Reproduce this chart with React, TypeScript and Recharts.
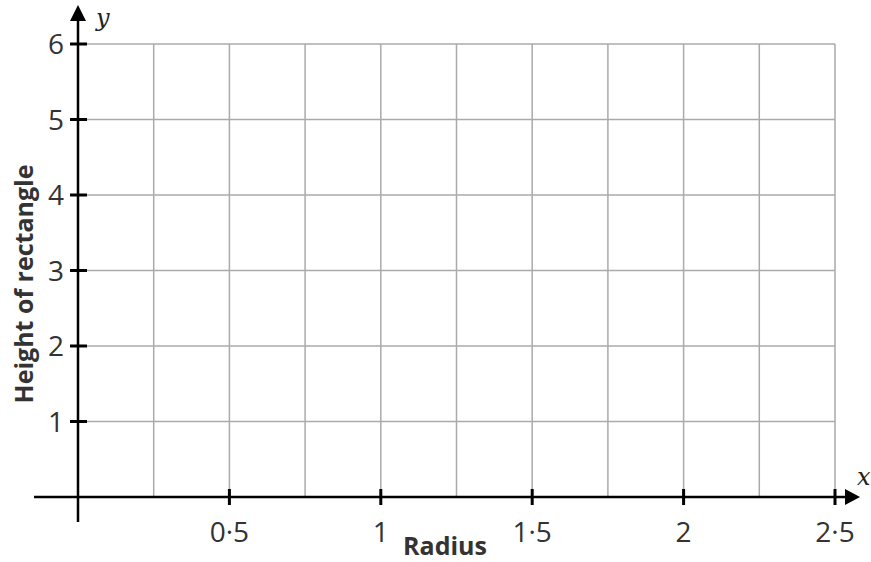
import { ComposedChart, XAxis, YAxis, ReferenceLine, Label } from "recharts";

const xTicks = [0.5, 1, 1.5, 2, 2.5];
const yTicks = [1, 2, 3, 4, 5, 6];
const gridX = [0.25, 0.5, 0.75, 1, 1.25, 1.5, 1.75, 2, 2.25, 2.5];
const gridY = [1, 2, 3, 4, 5, 6];
const xDomain = [0, 2.5];
const yDomain = [0, 6];

const tickFont = { fontFamily: "'Open Sans', sans-serif", fontSize: 28, fill: "#333" };
const boldFont = { fontFamily: "'Open Sans', sans-serif", fontSize: 25, fontWeight: 700, fill: "#333" };
const varFont = { fontFamily: "'DejaVu Serif', serif", fontStyle: "italic", fontSize: 24, fill: "#222" };

const fmt = (v: number) => String(v).replace(".", "·");

function XTick(props: any) {
  const { x, y, payload } = props;
  return (
    <g>
      <line x1={x} x2={x} y1={y - 8} y2={y + 8} stroke="#000" strokeWidth={3} />
      <text x={x} y={y + 45} textAnchor="middle" {...tickFont}>
        {fmt(payload.value)}
      </text>
    </g>
  );
}

function YTick(props: any) {
  const { x, y, payload } = props;
  return (
    <g>
      <line x1={x - 8} x2={x + 9} y1={y} y2={y} stroke="#000" strokeWidth={3} />
      <text x={x - 14} y={y + 10} textAnchor="end" {...tickFont}>
        {fmt(payload.value)}
      </text>
    </g>
  );
}

function XAxisLine(props: any) {
  const { x1, x2, y1 } = props;
  const left = Math.min(x1, x2);
  const right = Math.max(x1, x2);
  return (
    <g>
      <line x1={left - 44} x2={right + 12} y1={y1} y2={y1} stroke="#000" strokeWidth={2.5} />
      <polygon points={`${right + 10},${y1 - 8} ${right + 25},${y1} ${right + 10},${y1 + 8}`} fill="#000" />
      <text x={right + 22} y={y1 - 12} {...varFont}>x</text>
    </g>
  );
}

function YAxisLine(props: any) {
  const { x1, y1, y2 } = props;
  const top = Math.min(y1, y2);
  const bottom = Math.max(y1, y2);
  return (
    <g>
      <line x1={x1} x2={x1} y1={bottom + 25} y2={top - 26} stroke="#000" strokeWidth={2.5} />
      <polygon points={`${x1 - 8},${top - 23} ${x1},${top - 39} ${x1 + 8},${top - 23}`} fill="#000" />
      <text x={x1 + 18} y={top - 18} {...varFont}>y</text>
    </g>
  );
}

export default function App() {
  return (
    <div style={{ position: "absolute", left: 0, top: 0, background: "#fff" }}>
      <ComposedChart width={871} height={562} data={[]} margin={{ top: 44, right: 36, left: 0, bottom: 0 }}>
        <XAxis
          type="number"
          dataKey="x"
          domain={xDomain}
          ticks={xTicks}
          interval={0}
          allowDataOverflow
          axisLine={false}
          tickLine={false}
          tickSize={0}
          tickMargin={0}
          height={65}
          tick={<XTick />}
        >
          <Label
            content={(p: any) => {
              const vb = p.viewBox;
              return (
                <text x={vb.x + 367} y={vb.y + 58} textAnchor="middle" {...boldFont}>
                  Radius
                </text>
              );
            }}
          />
        </XAxis>
        <YAxis
          type="number"
          domain={yDomain}
          ticks={yTicks}
          interval={0}
          allowDataOverflow
          axisLine={false}
          tickLine={false}
          tickSize={0}
          tickMargin={0}
          width={78}
          tick={<YTick />}
        >
          <Label
            content={(p: any) => {
              const vb = p.viewBox;
              const cx = 33;
              const cy = vb.y + 240;
              return (
                <text x={cx} y={cy} textAnchor="middle" transform={`rotate(-90 ${cx} ${cy})`} {...boldFont}>
                  Height of rectangle
                </text>
              );
            }}
          />
        </YAxis>
        {gridX.map((v) => (
          <ReferenceLine key={`gx${v}`} x={v} stroke="#aaa" strokeWidth={1.5} />
        ))}
        {gridY.map((v) => (
          <ReferenceLine key={`gy${v}`} y={v} stroke="#aaa" strokeWidth={1.5} />
        ))}
        <ReferenceLine y={0} shape={<XAxisLine />} />
        <ReferenceLine x={0} shape={<YAxisLine />} />
      </ComposedChart>
    </div>
  );
}
